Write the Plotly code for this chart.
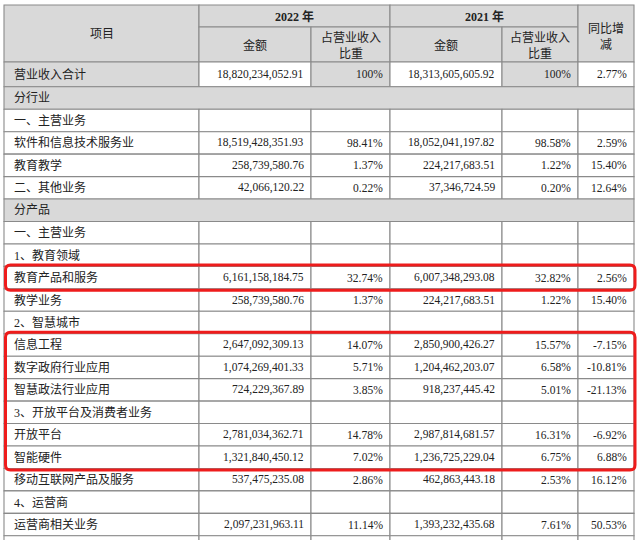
import plotly.graph_objects as go

# ---------------- data ----------------
row_labels = [
    "营业收入合计", "分行业", "一、主营业务", "软件和信息技术服务业", "教育教学",
    "二、其他业务", "分产品", "一、主营业务", "1、教育领域", "教育产品和服务",
    "教学业务", "2、智慧城市", "信息工程", "数字政府行业应用", "智慧政法行业应用",
    "3、开放平台及消费者业务", "开放平台", "智能硬件", "移动互联网产品及服务",
    "4、运营商", "运营商相关业务",
]
amount_2022 = [
    18820234052.91, None, None, 18519428351.93, 258739580.76,
    42066120.22, None, None, None, 6161158184.75,
    258739580.76, None, 2647092309.13, 1074269401.33, 724229367.89,
    None, 2781034362.71, 1321840450.12, 537475235.08,
    None, 2097231963.11,
]
share_2022 = [
    100, None, None, 98.41, 1.37,
    0.22, None, None, None, 32.74,
    1.37, None, 14.07, 5.71, 3.85,
    None, 14.78, 7.02, 2.86,
    None, 11.14,
]
amount_2021 = [
    18313605605.92, None, None, 18052041197.82, 224217683.51,
    37346724.59, None, None, None, 6007348293.08,
    224217683.51, None, 2850900426.27, 1204462203.07, 918237445.42,
    None, 2987814681.57, 1236725229.04, 462863443.18,
    None, 1393232435.68,
]
share_2021 = [
    100, None, None, 98.58, 1.22,
    0.20, None, None, None, 32.82,
    1.22, None, 15.57, 6.58, 5.01,
    None, 16.31, 6.75, 2.53,
    None, 7.61,
]
yoy_change = [
    2.77, None, None, 2.59, 15.40,
    12.64, None, None, None, 2.56,
    15.40, None, -7.15, -10.81, -21.13,
    None, -6.92, 6.88, 16.12,
    None, 50.53,
]
section_rows = ["分行业", "分产品"]
highlight_groups = [("教育产品和服务", "教育产品和服务"), ("信息工程", "智能硬件")]

header_item = "项目"
header_years = ["2022 年", "2021 年"]
header_amount = "金额"
header_share = "占营业收入<br>比重"
header_yoy = "同比增<br>减"

# ---------------- layout / style ----------------
W, H = 640, 540
col_edges = [4, 199, 311, 390, 502, 578, 634]
head_top, head_mid, head_bot = 5, 27, 62
first_row_bot = 86.8
row_h = 22.45

GRAY = "#d9d9d9"
LINE = "#8a8a8a"
TXT = "#222222"
RED = "#ee1c1c"
FONT = "Liberation Serif, Noto Sans CJK SC, serif"


def row_bounds(i):
    if i == 0:
        return head_bot, first_row_bot
    top = first_row_bot + (i - 1) * row_h
    return top, top + row_h


def fmt_amt(v):
    return "" if v is None else f"{v:,.2f}"


def fmt_pct(v):
    if v is None:
        return ""
    if v == 100:
        return "100%"
    return f"{v:.2f}%"


shapes = []
annotations = []


def cell(x0, x1, y0, y1, fill):
    shapes.append(dict(type="rect", xref="x", yref="y", x0=x0, x1=x1, y0=y0, y1=y1,
                       fillcolor=fill, line=dict(color=LINE, width=1.1), layer="below"))


def text(x, y, s, anchor="center", size=12, bold=False):
    if bold:
        s = f"<b>{s}</b>"
    annotations.append(dict(x=x, y=y, xref="x", yref="y", text=s, showarrow=False,
                            xanchor=anchor, yanchor="middle", align="center",
                            font=dict(family=FONT, size=size, color=TXT)))


# header cells
cell(col_edges[0], col_edges[1], head_top, head_bot, GRAY)
text((col_edges[0] + col_edges[1]) / 2, 34, header_item, size=12)
for k, yr in enumerate(header_years):
    xa, xb, xc = col_edges[1 + 2 * k], col_edges[2 + 2 * k], col_edges[3 + 2 * k]
    cell(xa, xc, head_top, head_mid, GRAY)
    text((xa + xc) / 2, (head_top + head_mid) / 2 + 0.5, yr, size=12, bold=True)
    cell(xa, xb, head_mid, head_bot, GRAY)
    text((xa + xb) / 2, (head_mid + head_bot) / 2 + 1, header_amount, size=12)
    cell(xb, xc, head_mid, head_bot, GRAY)
    text((xb + xc) / 2, (head_mid + head_bot) / 2 + 1, header_share, size=12)
cell(col_edges[5], col_edges[6], head_top, head_bot, GRAY)
text((col_edges[5] + col_edges[6]) / 2, 37, header_yoy, size=12)

# body rows
n = len(row_labels)
for i in range(n + 1):
    y0, y1 = row_bounds(i)
    ym = (y0 + y1) / 2
    if i == n:  # partially visible next row
        for c in range(6):
            cell(col_edges[c], col_edges[c + 1], y0, y1 + 10, "white")
        continue
    lab = row_labels[i]
    if lab in section_rows:
        cell(col_edges[0], col_edges[-1], y0, y1, GRAY)
        text(col_edges[0] + 8, ym, lab, anchor="left")
        continue
    fills = ["white"] * 6
    if i == 0:
        fills = [GRAY, "white", GRAY, "white", GRAY, "white"]
    for c in range(6):
        cell(col_edges[c], col_edges[c + 1], y0, y1, fills[c])
    text(col_edges[0] + 8, ym, lab, anchor="left")
    vals = [fmt_amt(amount_2022[i]), fmt_pct(share_2022[i]), fmt_amt(amount_2021[i]),
            fmt_pct(share_2021[i]), fmt_pct(yoy_change[i])]
    for c, s in enumerate(vals):
        if s:
            text(col_edges[c + 2] - 5, ym, s, anchor="right", size=11.5)

# highlight boxes (rounded red rectangles)
r = 5
for a, b in highlight_groups:
    ia, ib = row_labels.index(a), row_labels.index(b)
    y0 = row_bounds(ia)[0] - 1.5
    y1 = row_bounds(ib)[1] + 1.5
    x0, x1 = col_edges[0] + 1.5, col_edges[-1] + 1
    path = (f"M {x0 + r},{y0} L {x1 - r},{y0} Q {x1},{y0} {x1},{y0 + r} "
            f"L {x1},{y1 - r} Q {x1},{y1} {x1 - r},{y1} L {x0 + r},{y1} "
            f"Q {x0},{y1} {x0},{y1 - r} L {x0},{y0 + r} Q {x0},{y0} {x0 + r},{y0} Z")
    shapes.append(dict(type="path", xref="x", yref="y", path=path,
                       line=dict(color=RED, width=3), fillcolor="rgba(0,0,0,0)", layer="above"))

fig = go.Figure()
fig.update_layout(
    width=W, height=H,
    margin=dict(l=0, r=0, t=0, b=0),
    paper_bgcolor="white", plot_bgcolor="white",
    xaxis=dict(range=[0, W], visible=False, fixedrange=True),
    yaxis=dict(range=[H, 0], visible=False, fixedrange=True),
    shapes=shapes, annotations=annotations, showlegend=False,
)
fig.write_html(
    "out.html",
    config={"displayModeBar": False},
    post_script="document.body.style.margin='0';document.body.style.overflow='hidden';",
)
